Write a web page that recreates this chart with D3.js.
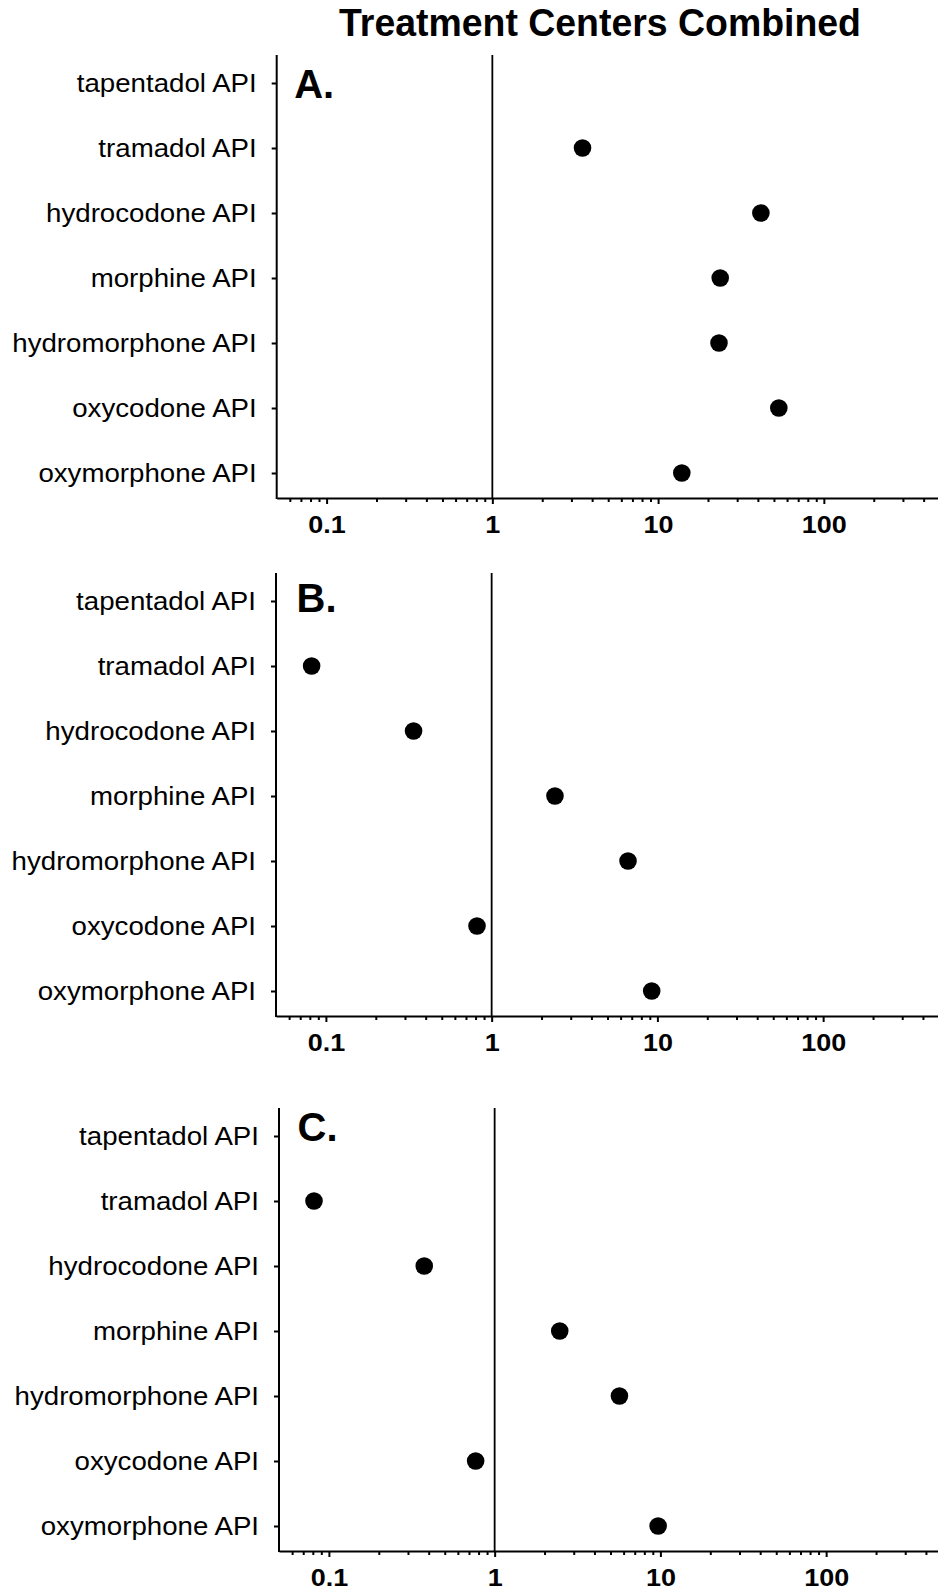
<!DOCTYPE html>
<html>
<head>
<meta charset="utf-8">
<script src="https://cdn.jsdelivr.net/npm/d3@7"></script>
<style>
  body { margin: 0; background: #fff; }
  svg { display: block; font-family: "Liberation Sans", Arial, sans-serif; }
</style>
</head>
<body>
<div id="chart"></div>
<script>
// data
var categories = ['tapentadol API', 'tramadol API', 'hydrocodone API', 'morphine API',
  'hydromorphone API', 'oxycodone API', 'oxymorphone API'];
var values_a = [null, 3.5, 41.7, 23.7, 23.3, 53.5, 13.9];
var values_b = [null, 0.082, 0.338, 2.41, 6.65, 0.816, 9.24];
var values_c = [null, 0.0813, 0.376, 2.47, 5.66, 0.768, 9.69];
var panel_labels = ['A.', 'B.', 'C.'];
var tick_labels = [0.1, 1, 10, 100];
var x_domain = [0.05, 500];
var title = 'Treatment Centers Combined';

var chart_width = 938;
var chart_height = 1591;
var panel_height = 443;
var axis_length = 663;

// layout of each panel
var panels = [
  {values: values_a, label: panel_labels[0], top: 55, left: 276.7, lx: 17.5, ly: 43},
  {values: values_b, label: panel_labels[1], top: 573, left: 276, lx: 20.5, ly: 39},
  {values: values_c, label: panel_labels[2], top: 1108, left: 279, lx: 18.5, ly: 33}
];

var svg = d3.select('#chart')
  .append('svg')
  .attr('width', chart_width)
  .attr('height', chart_height);

svg.append('text')
  .attr('x', 600)
  .attr('y', 36)
  .attr('text-anchor', 'middle')
  .attr('transform', 'translate(600,0) scale(0.985,1) translate(-600,0)')
  .style('font-size', '38px')
  .style('font-weight', 'bold')
  .text(title);

panels.forEach(function(p) {
  var bottom = p.top + panel_height;

  var x = d3.scaleLog()
    .domain(x_domain)
    .range([p.left, p.left + axis_length]);

  var y = d3.scalePoint()
    .domain(categories)
    .range([p.top + 28, bottom - 25]);

  var minor = x.ticks().filter(function(t) {
    return tick_labels.indexOf(t) < 0 && t > x_domain[0] && t < x_domain[1];
  });

  // minor ticks
  svg.append('g')
    .attr('transform', 'translate(0,' + bottom + ')')
    .call(d3.axisBottom(x).tickValues(minor).tickSize(4).tickFormat(''))
    .call(function(g) { g.select('.domain').remove(); })
    .selectAll('line').attr('stroke-width', 2);

  // major ticks + labels
  var xg = svg.append('g')
    .attr('transform', 'translate(0,' + bottom + ')')
    .call(d3.axisBottom(x).tickValues(tick_labels).tickSize(6).tickSizeOuter(0)
      .tickFormat(function(d) { return String(d); }));
  xg.select('.domain').attr('stroke-width', 2);
  xg.selectAll('line').attr('stroke-width', 2);
  xg.selectAll('text')
    .attr('y', 35)
    .attr('dy', 0)
    .attr('transform', 'scale(1.1,1)')
    .style('font-size', '24.5px')
    .style('font-weight', 'bold')
    .attr('fill', '#000');

  // y axis
  var yg = svg.append('g')
    .attr('transform', 'translate(' + p.left + ',0)')
    .call(d3.axisLeft(y).tickSize(5));
  yg.select('.domain').remove();
  yg.selectAll('line').attr('stroke-width', 2);
  yg.selectAll('text')
    .attr('x', -20 / 1.085)
    .attr('transform', 'scale(1.085,1)')
    .style('font-size', '25.5px')
    .attr('fill', '#000');

  yg.append('line')
    .attr('y1', p.top)
    .attr('y2', bottom + 1)
    .attr('stroke', '#000')
    .attr('stroke-width', 2);

  // reference line at 1
  svg.append('line')
    .attr('x1', x(1))
    .attr('x2', x(1))
    .attr('y1', p.top)
    .attr('y2', bottom)
    .attr('stroke', '#000')
    .attr('stroke-width', 1.8);

  svg.append('text')
    .attr('x', p.left + p.lx)
    .attr('y', p.top + p.ly)
    .style('font-size', '40px')
    .style('font-weight', 'bold')
    .text(p.label);

  var pts = categories.map(function(c, i) { return {cat: c, v: p.values[i]}; })
    .filter(function(d) { return d.v != null; });

  svg.selectAll(null)
    .data(pts)
    .enter()
    .append('circle')
    .attr('cx', function(d) { return x(d.v); })
    .attr('cy', function(d) { return y(d.cat); })
    .attr('r', 8.8)
    .attr('fill', '#000');
});
</script>
</body>
</html>
